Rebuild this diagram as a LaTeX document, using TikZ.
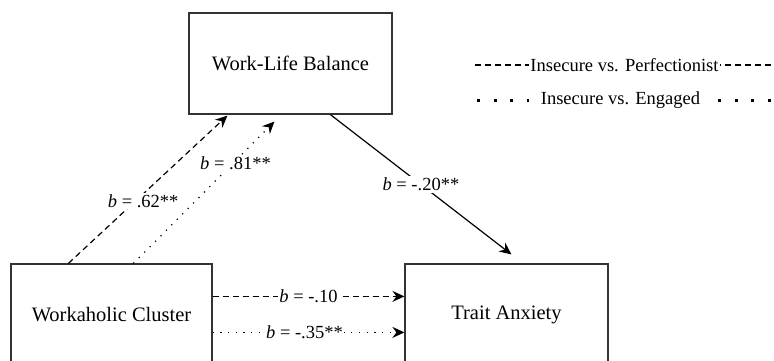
\documentclass[tikz,border=0pt]{standalone}
\usepackage{fontspec}
\setmainfont{Liberation Serif}
\usepackage{tikz}
\usetikzlibrary{arrows.meta,calc,positioning}
\tikzset{
  boxnode/.style={draw=black!80,line width=1.2pt,minimum width=203pt,minimum height=101pt,inner sep=0pt,font=\fontsize{20.5}{24}\selectfont},
  coefflbl/.style={fill=white,inner sep=1.5pt,font=\fontsize{18.5}{22}\selectfont},
  dashline/.style={line width=1.2pt,dash pattern=on 6pt off 4pt},
  dotline/.style={line width=1.2pt,dash pattern=on 1.2pt off 6.5pt},
  legdot/.style={line width=3pt,dash pattern=on 3pt off 13.5pt},
  tip/.style={-{Stealth[length=12pt,width=11pt,inset=4pt]}}
}

\begin{document}
\begin{tikzpicture}[x=1pt,y=-1pt]
\useasboundingbox (0,0) rectangle (774,360);
\clip (0,0) rectangle (774,360);
% boxes
\node[boxnode] (wlb) at (290.5,63.5) {Work-Life Balance};
\node[boxnode,minimum width=201pt] (wc) at (111.5,314.5) {Workaholic Cluster};
\node[boxnode] (ta) at (506.5,314.5) {Trait Anxiety};
% a paths
\coordinate (wca) at ([xshift=58pt]wc.north west);
\coordinate (wlba) at ([xshift=39pt,yshift=-1pt]wlb.south west);
\coordinate (wcb) at ([xshift=123pt]wc.north west);
\coordinate (wlbb) at ([xshift=86pt,yshift=-7pt]wlb.south west);
\draw[dashline,tip] (wca) -- node[coefflbl,pos=.42,xshift=8pt] {\textit{b} = .62**} (wlba);
\draw[dotline,tip] (wcb) -- node[coefflbl,pos=.71,xshift=2pt] {\textit{b} = .81**} (wlbb);
% b path
\coordinate (wlbc) at ([xshift=142pt]wlb.south west);
\coordinate (tac) at ([xshift=107pt,yshift=9pt]ta.north west);
\draw[line width=1.2pt,tip] (wlbc) -- node[coefflbl,pos=.5] {\textit{b} = -.20**} (tac);
% direct paths
\coordinate (wcd) at ([yshift=-33pt]wc.north east);
\coordinate (tad) at ([yshift=-33pt]ta.north west);
\coordinate (wce) at ([yshift=-69pt]wc.north east);
\coordinate (tae) at ([yshift=-69pt]ta.north west);
\draw[dashline,tip] (wcd) -- node[coefflbl] {\textit{b} = -.10} (tad);
\draw[dotline,tip] (wce) -- node[coefflbl,xshift=-4pt] {\textit{b} = -.35**} (tae);
% legend
\coordinate (lga) at (475,65);
\coordinate (lgb) at (774,65);
\coordinate (lgc) at (477,100);
\coordinate (lgd) at (774,100);
\draw[dashline] (lga) -- node[coefflbl,inner sep=1pt] (legp) {Insecure vs. Perfectionist} (lgb);
\node[coefflbl,inner xsep=0pt] (lege) at (620.5,100) {Insecure vs. Engaged};
\draw[legdot] (lgc) -- ([xshift=-12pt]lege.west);
\draw[legdot] ([xshift=18pt]lege.east) -- (lgd);
\end{tikzpicture}
\end{document}
